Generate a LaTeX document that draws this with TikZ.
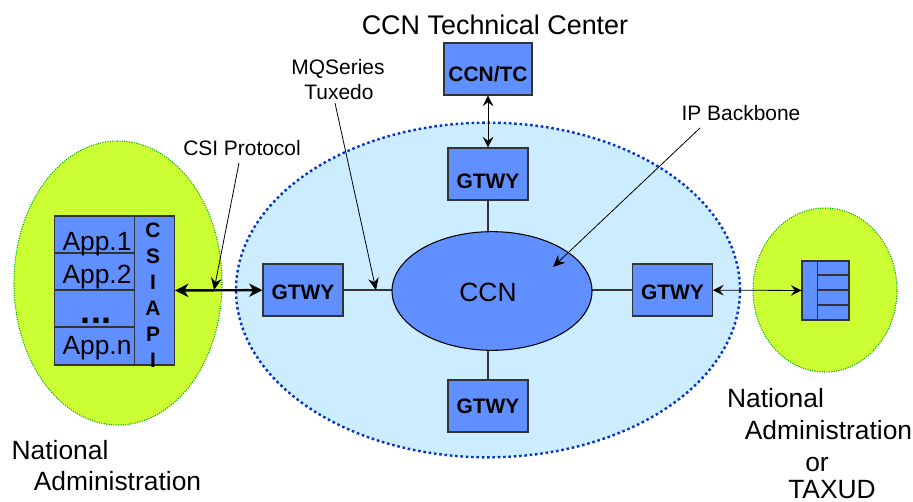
\documentclass[tikz,border=0pt]{standalone}
\usepackage{fontspec}
\setmainfont{Liberation Sans}
\usetikzlibrary{arrows.meta,shapes.geometric}
\definecolor{boxblue}{RGB}{96,144,255}
\definecolor{netblue}{RGB}{204,236,255}
\definecolor{dotblue}{RGB}{0,51,204}
\definecolor{limegreen}{RGB}{204,255,51}
\definecolor{dotgreen}{RGB}{0,170,0}
\def\bigfont{\fontsize{19.8}{23}\selectfont}
\def\smallfont{\fontsize{15.7}{19}\selectfont}
\tikzset{
  bigtext/.style={inner sep=0pt,font=\bigfont,anchor=base},
  smalltext/.style={inner sep=0pt,font=\smallfont,anchor=base},
  gtwybox/.style={draw=black!80,thick,fill=boxblue,inner sep=0pt,minimum width=60pt,minimum height=39pt,font=\smallfont\bfseries},
  cellbox/.style={draw=black!80,thick,fill=boxblue,inner sep=0pt},
  link/.style={draw=black!80,thick},
  leader/.style={draw=black,semithick,-{Stealth[length=9pt,width=8pt,inset=3pt]}},
  biarrow/.style={draw=black,semithick,{Stealth[length=8pt,width=8pt,inset=3pt]}-{Stealth[length=8pt,width=8pt,inset=3pt]}},
  bigarrow/.style={draw=black,line width=1.8pt,{Stealth[length=10pt,width=10pt,inset=3pt]}-{Stealth[length=10pt,width=10pt,inset=3pt]}},
}
\begin{document}
\begin{tikzpicture}[x=0.75pt,y=-0.75pt]
\useasboundingbox (0,0) rectangle (913,502);
% regions
\node (admleft) at (118,283) [draw=dotgreen,densely dotted,thick,fill=limegreen,ellipse,inner sep=0pt,minimum width=156pt,minimum height=213pt] {};
\node (admright) at (825,290) [draw=dotgreen,densely dotted,thick,fill=limegreen,ellipse,inner sep=0pt,minimum width=108pt,minimum height=123pt] {};
\node (backbone) at (488,290) [draw=dotblue,dash pattern=on 1.9pt off 2.1pt,line width=1.8pt,fill=netblue,ellipse,inner sep=0pt,minimum width=378pt,minimum height=251pt] {};
% gateways
\node (gtwyl) at (303,290) [gtwybox,text height=15pt] {GTWY};
\node (gtwyr) at (672.5,290) [gtwybox,text height=15pt] {GTWY};
\node (gtwyt) at (488,174) [gtwybox,text height=22pt] {GTWY};
\node (gtwyb) at (488,406) [gtwybox] {GTWY};
\node (ccntc) at (488,69) [gtwybox,minimum width=66pt,text height=19pt] {CCN/TC};
\draw[link] (gtwyt)--(gtwyb);
\draw[link] (gtwyl)--(gtwyr);
\node (ccn) at (492,291) [draw=black,thick,fill=boxblue,ellipse,inner sep=0pt,minimum width=150pt,minimum height=89pt] {};
\node (ccnt) at (488,301) [bigtext] {CCN};
% application stack
\node (app1) at (94.5,234.5) [cellbox,minimum width=60pt,minimum height=27.75pt] {};
\node (app2) at (94.5,271.5) [cellbox,minimum width=60pt,minimum height=27.75pt] {};
\node (app3) at (94.5,308.5) [cellbox,minimum width=60pt,minimum height=27.75pt] {};
\node (app4) at (94.5,346) [cellbox,minimum width=60pt,minimum height=28.5pt] {};
\node (api) at (154.5,290.5) [cellbox,minimum width=30pt,minimum height=111.75pt] {};
\node (app1t) at (97,251) [bigtext] {App.1};
\node (app2t) at (97,283) [bigtext] {App.2};
\node (dots) at (96,323) [bigtext,font=\fontsize{27}{30}\selectfont\bfseries] {...};
\node (app4t) at (97,354) [bigtext] {App.n};
\node (apic) at (153,238) [smalltext,font=\smallfont\bfseries] {C};
\node (apis) at (153,263) [smalltext,font=\smallfont\bfseries] {S};
\node (apii) at (153,289) [smalltext,font=\smallfont\bfseries] {I};
\node (apia) at (153,315) [smalltext,font=\smallfont\bfseries] {A};
\node (apip) at (153,341) [smalltext,font=\smallfont\bfseries] {P};
\node (apij) at (153,367) [smalltext,font=\smallfont\bfseries] {I};
% remote stack
\node (rem1) at (833.25,268) [cellbox,minimum width=23.6pt,minimum height=10.5pt] {};
\node (rem2) at (833.25,282.5) [cellbox,minimum width=23.6pt,minimum height=11.25pt] {};
\node (rem3) at (833.25,297.5) [cellbox,minimum width=23.6pt,minimum height=11.25pt] {};
\node (rem4) at (833.25,312.5) [cellbox,minimum width=23.6pt,minimum height=11.25pt] {};
\node (remapi) at (809.75,290.5) [cellbox,minimum width=11.6pt,minimum height=44.25pt] {};
% links
\draw[biarrow] (ccntc)--(gtwyt);
\draw[biarrow] (gtwyr)--(remapi);
\draw[bigarrow] (api)--(gtwyl);
% labels
\node (centre) at (495,35) [bigtext,font=\fontsize{20.2}{23}\selectfont] {CCN Technical Center};
\node (csi) at (242,156) [smalltext] {CSI Protocol};
\node (mq) at (338,75) [smalltext] {MQSeries};
\node (tux) at (339,100) [smalltext] {Tuxedo};
\node (ip) at (741,121) [smalltext] {IP Backbone};
\node (nat1) at (60,459) [bigtext] {National};
\node (adm1) at (117.5,490) [bigtext] {Administration};
\node (nat2) at (775.5,407) [bigtext] {National};
\node (adm2) at (828.5,439) [bigtext] {Administration};
\node (or) at (817,471) [bigtext] {or};
\node (taxud) at (832,498) [bigtext] {TAXUD};
\coordinate (csiend) at (214,290);
\coordinate (csistart) at (239,163);
\coordinate (mqend) at (376,290);
\coordinate (mqstart) at (335,103);
\coordinate (ipend) at (553,267);
\coordinate (ipstart) at (700,128);
\draw[leader] (csistart)--(csiend);
\draw[leader] (mqstart)--(mqend);
\draw[leader] (ipstart)--(ipend);
\end{tikzpicture}
\end{document}
